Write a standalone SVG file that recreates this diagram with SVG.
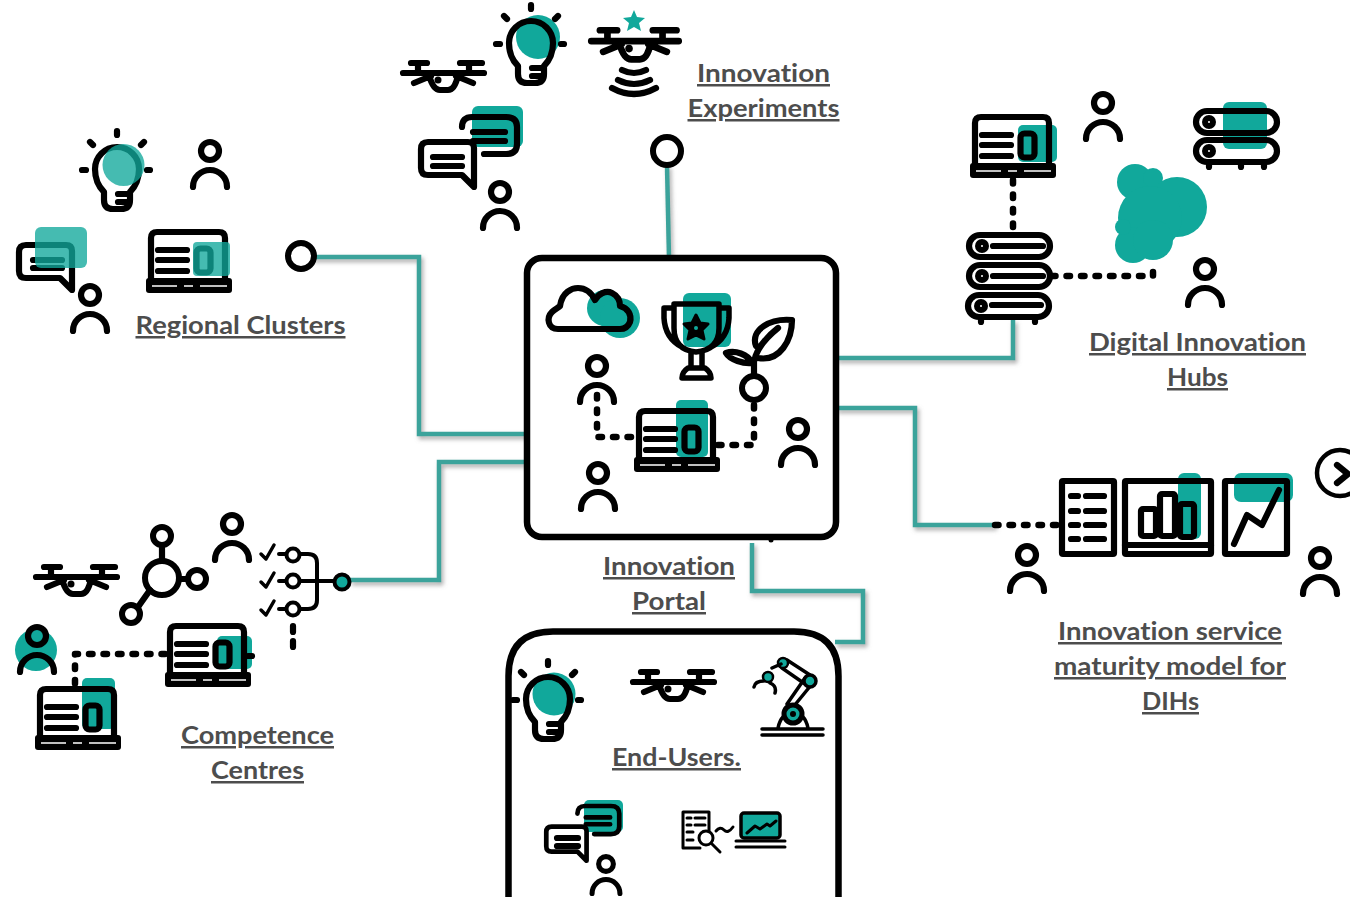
<svg xmlns="http://www.w3.org/2000/svg" xmlns:xlink="http://www.w3.org/1999/xlink" width="1350" height="897" viewBox="0 0 1350 897">
<style>
.k{fill:none;stroke:#000;stroke-width:6.200;stroke-linecap:round;stroke-linejoin:round}
.t{fill:none;stroke:#000;stroke-width:3;stroke-linecap:round;stroke-linejoin:round}
.d{fill:none;stroke:#000;stroke-width:6.500;stroke-linecap:round;stroke-linejoin:round;stroke-dasharray:3.500 11}
.teal{fill:#11a89b}
.soft{fill:#11a89b;opacity:.78}
.c{fill:none;stroke:#3ba39b;stroke-width:4.500}
.l{font-family:"Lato","Open Sans","Liberation Sans",sans-serif;font-weight:700;font-size:25px;fill:#4d4d4d;text-decoration:underline;text-anchor:middle;font-variant-ligatures:none}
</style>
<defs>
<filter id="sh" x="-5%" y="-5%" width="110%" height="110%"><feDropShadow dx="2" dy="3" stdDeviation="2" flood-color="#777" flood-opacity=".6"/></filter>
<g id="person"><circle cx="0" cy="0" r="9" class="k"/><path class="k" d="M-17,36C-17,26-9,19 0,19C9,19 17,26 17,36"/></g>
<g id="laptop"><path class="k" d="M5,50V9Q5,3 11,3H73Q79,3 79,9V50"/><rect x="0" y="49" width="86" height="15" rx="3" fill="#000"/><path stroke="#fff" stroke-width="1.500" fill="none" d="M6,57H31M38,57H47M54,57H81"/><path class="k" d="M12,21H41M12,31H41M12,42H41"/><rect x="50.500" y="19.500" width="14" height="24" rx="4" class="k"/></g>
<g id="drone"><path class="k" d="M11,3H27M60,3H82M3,13H84M18,3V13M69,3V13M14,23L31,16M73,23L56,16M29,15Q33,30 40,30H48Q55,30 58,15"/><circle cx="38" cy="20" r="3.500" fill="#000"/></g>
<g id="bulb"><path class="k" d="M-13,25C-18,20-22,12-22,2A22,22 0 0 1 22,2C22,12 18,20 13,25V33Q13,42 4,42H-4Q-13,42-13,33ZM1,27H13M1,35H11M0,-36V-32M-27,-25L-24,-22M27,-25L24,-22M-35,3H-31M30,3H33"/></g>
<g id="front"><path class="k" d="M10,27H50Q56,27 56,33V72L44,60H10Q3,60 3,53V34Q3,27 10,27Z"/></g>
<g id="back"><path class="k" d="M44,10Q44,0 54,0H88Q99,0 99,10V27Q99,37 88,37H66"/><path class="k" d="M55,15H87M55,24H87"/></g>
<g id="server"><rect x="3" y="3" width="81" height="22" rx="11" class="k"/><circle cx="16" cy="14" r="7" fill="#000"/><circle cx="16" cy="14" r="1" fill="#fff"/></g>
</defs>

<g id="connectors" filter="url(#sh)">
<path class="c" d="M667,165L669,258"/>
<path class="c" d="M312,257H419V434H527"/>
<path class="c" d="M350,580H439V462H527"/>
<path class="c" d="M836,358H1013V320"/>
<path class="c" d="M836,408H915V525H995"/>
<path class="c" d="M752,543V591H863V642H835"/>
</g>

<g id="regional-clusters">
<use href="#bulb" x="117" y="167"/><circle cx="123.500" cy="165" r="21" class="soft"/>
<use href="#person" x="210" y="151"/>
<use href="#front" x="16" y="218"/><path class="k" d="M33,260H62M33,268H62"/><rect x="35" y="227" width="52" height="41" rx="6" class="soft"/>
<use href="#person" x="90" y="295"/>
<use href="#laptop" x="146" y="229"/><rect x="193" y="242" width="37" height="34" rx="4" class="soft"/>
<circle cx="301" cy="256" r="13" fill="#fff" stroke="#000" stroke-width="6"/>
<text class="l" x="240.500" y="334" textLength="210" lengthAdjust="spacingAndGlyphs">Regional Clusters</text>
</g>

<g id="innovation-experiments">
<use href="#drone" x="400" y="60"/>
<circle cx="538" cy="37" r="22" class="teal"/><use href="#bulb" x="531" y="41"/>
<path class="teal" d="M634,10L637,17 645,18 639,23 641,31 634,27 627,31 629,23 623,18 631,17Z"/>
<use href="#drone" transform="translate(588,27) scale(1.080)"/>
<path class="k" d="M622,70Q634,76 646,70M618,80Q634,88 650,80M612,88Q634,100 656,88"/>
<rect x="472" y="106" width="51" height="41" rx="6" class="teal"/>
<use href="#front" x="418" y="115"/><use href="#back" x="418" y="117"/><path class="k" d="M433,157H462M433,166H462"/>
<use href="#person" x="500" y="192"/>
<circle cx="667" cy="151" r="14" fill="#fff" stroke="#000" stroke-width="6"/>
<text class="l" x="763.500" y="82" textLength="133" lengthAdjust="spacingAndGlyphs">Innovation</text>
<text class="l" x="763.500" y="117" textLength="152" lengthAdjust="spacingAndGlyphs">Experiments</text>
</g>

<g id="innovation-portal">
<rect x="527" y="258" width="309" height="279" rx="15" fill="#fff" stroke="#000" stroke-width="6.500"/>
<circle cx="771" cy="540" r="2.500" fill="#000"/>
<circle cx="605" cy="308" r="18" class="teal"/><circle cx="620" cy="318" r="20" class="teal"/>
<path class="k" d="M558,329C548,329 546,318 552,312C555,309 558,308 560,306C562,292 572,288 578,288C587,288 592,294 595,300C598,294 606,290 612,293C618,296 620,300 620,306C628,308 632,315 630,322C628,327 624,329 620,329Z"/>
<rect x="683" y="293" width="48" height="54" rx="6" class="teal"/>
<path class="k" style="stroke-width:5.500" d="M674,304H719V328Q719,350 696,352Q674,350 674,328ZM674,308H664V318Q665,338 682,347M719,308H729V318Q728,338 711,347M691,352V368M702,352V368M688,368H705Q711,372 711,378H682Q682,372 688,368Z"/>
<path fill="#000" stroke="#000" stroke-width="3" stroke-linejoin="round" d="M696,315L700,323 708,324 702,330 704,339 696,335 688,339 690,330 684,324 692,323Z"/>
<circle cx="696" cy="328" r="2" class="teal"/>
<circle cx="754" cy="388" r="12" fill="none" stroke="#000" stroke-width="6"/>
<path class="k" d="M754,376V362C756,350 763,340 778,328M756,346C750,330 770,318 792,320C792,340 780,362 758,358M752,363C744,364 730,360 726,353C735,350 748,354 752,363"/>
<use href="#person" x="597" y="366"/><use href="#person" x="598" y="473"/><use href="#person" x="798" y="429"/>
<rect x="676" y="400" width="32" height="57" rx="5" class="teal"/>
<use href="#laptop" x="634" y="408"/>
<path class="d" d="M597,395V437H636"/>
<path class="d" d="M718,445H754V402"/>
<text class="l" x="669" y="575" textLength="132" lengthAdjust="spacingAndGlyphs">Innovation</text>
<text class="l" x="669" y="610" textLength="74" lengthAdjust="spacingAndGlyphs">Portal</text>
</g>

<g id="digital-innovation-hubs">
<rect x="1018" y="125" width="39" height="37" rx="5" class="teal"/>
<use href="#laptop" x="970" y="114"/>
<use href="#person" x="1103" y="103"/><use href="#person" x="1205" y="269"/>
<rect x="1223" y="102" width="44" height="47" rx="6" class="teal"/>
<use href="#server" x="1193" y="108"/><use href="#server" x="1193" y="137"/>
<path class="k" d="M1209,165V167M1241,165V167M1264,165V167"/>
<g class="teal"><circle cx="1135" cy="182" r="18"/><circle cx="1153" cy="178" r="10"/><circle cx="1177" cy="207" r="30"/><circle cx="1150" cy="218" r="32"/><circle cx="1133" cy="245" r="18"/><circle cx="1153" cy="240" r="20"/><circle cx="1123" cy="227" r="8"/></g>
<use href="#server" x="966" y="232"/><use href="#server" x="966" y="262"/><use href="#server" x="965" y="292"/>
<path class="k" d="M993,246H1043M993,276H1043M992,305H1041M981,320V322M1035,320V322"/>
<path class="d" d="M1013,180V232"/>
<path class="d" d="M1052,276H1153V262"/>
<text class="l" x="1197.500" y="351" textLength="217" lengthAdjust="spacingAndGlyphs">Digital Innovation</text>
<text class="l" x="1197.500" y="386" textLength="61" lengthAdjust="spacingAndGlyphs">Hubs</text>
</g>

<g id="maturity-model">
<path class="d" d="M995,525H1060"/>
<use href="#person" x="1027" y="555"/><use href="#person" x="1320" y="558"/>
<rect x="1062" y="481" width="52" height="73" rx="1" class="k"/>
<path class="k" d="M1071,496H1078M1086,496H1104M1071,511H1078M1086,511H1104M1071,525H1078M1086,525H1104M1071,539H1078M1086,539H1104"/>
<rect x="1178" y="473" width="23" height="66" rx="6" class="teal"/>
<rect x="1125" y="481" width="86" height="73" rx="1" class="k"/>
<path class="k" d="M1125,545H1211"/>
<rect x="1141" y="509" width="15" height="27" rx="2" class="k"/>
<rect x="1160" y="494" width="15" height="42" rx="2" class="k"/>
<rect x="1180" y="504" width="14" height="33" rx="2" class="k"/>
<rect x="1234" y="473" width="59" height="29" rx="7" class="teal"/>
<rect x="1225" y="481" width="62" height="73" rx="1" class="k"/>
<path class="k" d="M1234,544L1247,515 1262,525 1279,490"/>
<circle cx="1340" cy="473" r="23" fill="none" stroke="#000" stroke-width="4.500"/>
<path class="k" d="M1337,465L1348,474 1337,483"/>
<text class="l" x="1170" y="640" textLength="224" lengthAdjust="spacingAndGlyphs">Innovation service</text>
<text class="l" x="1170" y="675" textLength="232" lengthAdjust="spacingAndGlyphs">maturity model for</text>
<text class="l" x="1170.500" y="710" textLength="57" lengthAdjust="spacingAndGlyphs">DIHs</text>
</g>

<g id="competence-centres">
<use href="#drone" x="33" y="564"/>
<circle cx="162" cy="578" r="17" fill="none" stroke="#000" stroke-width="6"/>
<circle cx="162" cy="536" r="9" fill="none" stroke="#000" stroke-width="6"/>
<circle cx="197" cy="579" r="9" fill="none" stroke="#000" stroke-width="6"/>
<circle cx="131" cy="614" r="9" fill="none" stroke="#000" stroke-width="6"/>
<path class="k" d="M162,545V561M179,579H188M150,590L138,607"/>
<use href="#person" x="232" y="524"/>
<path class="t" d="M261,554L266,559 274,545M261,582L266,587 274,573M261,610L266,615 274,601" style="stroke-width:3.500"/>
<path class="t" style="stroke-width:4" d="M279,554H287M279,581H287M279,609H287M299,554H308Q317,554 317,563V600Q317,609 308,609H299M299,581H335"/>
<circle cx="293" cy="555" r="6.500" fill="#fff" stroke="#000" stroke-width="4"/>
<circle cx="293" cy="581" r="6.500" fill="#fff" stroke="#000" stroke-width="4"/>
<circle cx="293" cy="609" r="6.500" fill="#fff" stroke="#000" stroke-width="4"/>
<circle cx="342" cy="582" r="7.500" class="teal" stroke="#000" stroke-width="4"/>
<path class="k" d="M293,626V632M293,641V647"/>
<circle cx="36" cy="650" r="21" class="teal"/>
<use href="#person" x="37" y="636"/>
<rect x="217" y="636" width="35" height="33" rx="5" class="teal"/>
<use href="#laptop" x="165" y="623"/>
<rect x="82" y="678" width="33" height="51" rx="5" class="teal"/>
<use href="#laptop" x="35" y="686"/>
<path class="d" d="M165,654H75V686"/>
<path class="k" d="M248,656H252"/>
<text class="l" x="257.500" y="744" textLength="153" lengthAdjust="spacingAndGlyphs">Competence</text>
<text class="l" x="257.500" y="779" textLength="93" lengthAdjust="spacingAndGlyphs">Centres</text>
</g>

<g id="end-users">
<path fill="#fff" stroke="#000" stroke-width="6.500" d="M508.500,900V676Q508.500,631.500 553,631.500H794Q838.500,631.500 838.500,676V900"/>
<circle cx="554" cy="694" r="21.500" class="teal"/><use href="#bulb" x="548" y="697"/>
<use href="#drone" x="630" y="669"/>
<path class="t" style="stroke-width:3.500" d="M762,729H823M762,735H823M778,728Q781,713 793,713Q805,713 808,728M787,704L805,678M794,706L812,684M810,675L787,660M805,684L782,668"/>
<circle cx="793" cy="714" r="9" class="teal" stroke="#000" stroke-width="5"/><circle cx="793" cy="714" r="3" fill="#000"/>
<circle cx="810" cy="681" r="6" class="teal" stroke="#000" stroke-width="3.500"/>
<circle cx="783" cy="663" r="5" class="teal" stroke="#000" stroke-width="2.500"/>
<circle cx="768" cy="677" r="5" class="teal" stroke="#000" stroke-width="2.500"/>
<path class="t" style="stroke-width:3.500" d="M772,668L781,664M754,687Q755,681 764,681M770,683Q777,686 775,693"/>
<text class="l" x="676.500" y="766" textLength="129" lengthAdjust="spacingAndGlyphs">End-Users.</text>
<rect x="584" y="800" width="39" height="32" rx="5" class="teal"/>
<use href="#front" transform="translate(544,806) scale(.76)"/><use href="#back" transform="translate(544,806) scale(.76)"/>
<path class="k" d="M557,838H578M557,846H578"/>
<use href="#person" transform="translate(606,864) scale(.82)"/>
<path class="t" d="M683,812H709V832M683,812V848H700M687,818H691M695,818H705M687,825H691M695,825H705M687,832H693M687,840H693M712,844L720,852M716,831Q720,826 724,830T733,827"/>
<circle cx="706" cy="838" r="7" fill="#fff" stroke="#000" stroke-width="3"/>
<rect x="741" y="813" width="39" height="25" rx="3" class="teal" stroke="#000" stroke-width="3.500"/>
<path class="t" style="stroke-width:3" d="M736,841H785M736,847H785M747,833L755,826 760,829 767,824 770,826 776,821"/>
</g>
</svg>
